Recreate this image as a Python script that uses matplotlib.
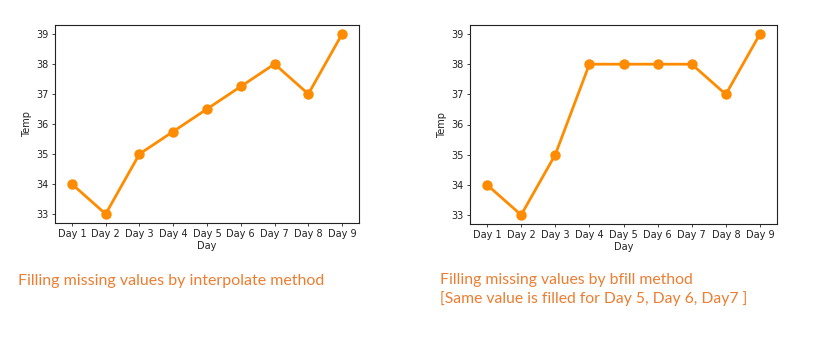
import numpy as np
import matplotlib
matplotlib.use('Agg')
import matplotlib.pyplot as plt

# Data
days = ['Day 1', 'Day 2', 'Day 3', 'Day 4', 'Day 5', 'Day 6', 'Day 7', 'Day 8', 'Day 9']
temp_interpolate = [34, 33, 35, 35.75, 36.5, 37.25, 38, 37, 39]
temp_bfill = [34, 33, 35, 38, 38, 38, 38, 37, 39]
captions = [
    'Filling missing values by interpolate method',
    'Filling missing values by bfill method\n[Same value is filled for Day 5, Day 6, Day7 ]',
]

line_color = '#ff8c00'
caption_color = '#ed7d31'

fig = plt.figure(figsize=(8.19, 3.6), dpi=100)
fig.patch.set_facecolor('white')

W, H = 819, 360
# axes boxes in pixels: left, top, right, bottom
boxes = [(55, 25, 359, 223), (470, 25, 777, 224)]
series = [temp_interpolate, temp_bfill]

for (l, t, r, b), vals in zip(boxes, series):
    ax = fig.add_axes([l / W, 1 - b / H, (r - l) / W, (b - t) / H])
    x = np.arange(len(days))
    ax.plot(x, vals, color=line_color, linewidth=2.0, marker='o', markersize=6.5)
    ax.set_xticks(x)
    ax.set_xticklabels(days)
    ax.set_xlim(-0.5, len(days) - 0.5)
    ax.set_yticks([33, 34, 35, 36, 37, 38, 39])
    ax.set_ylim(32.7, 39.3)
    ax.tick_params(labelsize=7, length=2.5, width=0.6, pad=2, colors='#222222')
    ax.set_xlabel('Day', fontsize=7, labelpad=1, color='#222222')
    ax.set_ylabel('Temp', fontsize=7, labelpad=3, color='#222222')
    for s in ax.spines.values():
        s.set_linewidth(0.8)
        s.set_color('#222222')

fig.text(18 / W, 1 - 281 / H, captions[0], fontsize=11.5, color=caption_color,
         family=['Lato', 'DejaVu Sans'], va='center', ha='left')
fig.text(440 / W, 1 - 273 / H, captions[1], fontsize=11.3, color=caption_color,
         family=['Lato', 'DejaVu Sans'], va='top', ha='left', linespacing=1.35)

fig.savefig('out.png', dpi=100)
